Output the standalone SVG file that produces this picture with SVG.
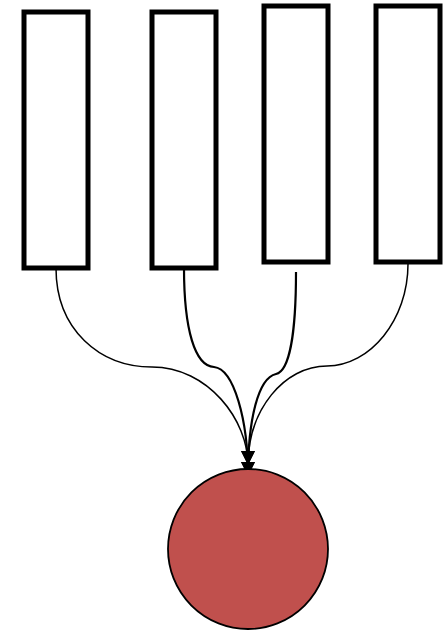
<svg xmlns="http://www.w3.org/2000/svg" width="446" height="631" viewBox="0 0 446 631">
<style>
.box{fill:#fff;stroke:#000;stroke-width:5}
.e{fill:none;stroke:#000}
.thin{stroke-width:1.5}
.thick{stroke-width:2.2}
.circ{fill:#c0504d;stroke:#000;stroke-width:1.8}
</style>
<defs>
<marker id="ah" viewBox="0 0 10 10" refX="10" refY="5" markerWidth="14" markerHeight="15" markerUnits="userSpaceOnUse" orient="auto">
<path d="M0,0 L10,5 L0,10 z" fill="#000"/>
</marker>
</defs>
<rect width="446" height="631" fill="#fff"/>
<g id="connectors">
<path class="e thin" d="M56,268 C56,330 100,367 152,367 C208,367 248,420 248,465" marker-end="url(#ah)"/>
<path class="e thick" d="M184,268 C184,330 195,366 214,367 C234,369 248,420 248,476" marker-end="url(#ah)"/>
<path class="e thick" d="M296,272 C296,330 290,371 276,374 C258,378 248,420 248,476" marker-end="url(#ah)"/>
<path class="e thin" d="M408,264 C408,320 370,366 327,366 C284,366 248,410 248,465" marker-end="url(#ah)"/>
</g>
<g id="node1"><rect class="box" x="24" y="12" width="64" height="256"/></g>
<g id="node2"><rect class="box" x="152" y="12" width="64" height="256"/></g>
<g id="node3"><rect class="box" x="264" y="6" width="64" height="256"/></g>
<g id="node4"><rect class="box" x="376" y="6" width="64" height="256"/></g>
<g id="node5"><circle class="circ" cx="248" cy="549" r="80"/></g>
</svg>
